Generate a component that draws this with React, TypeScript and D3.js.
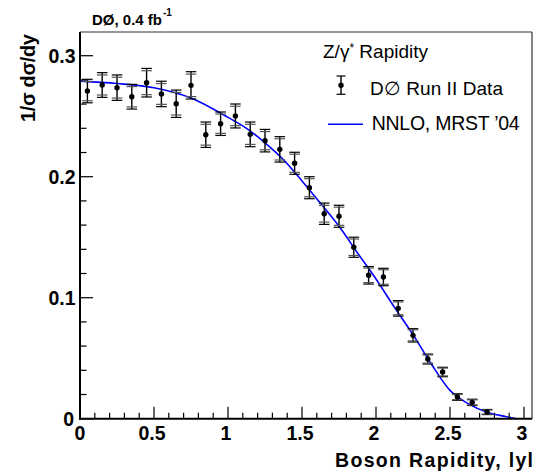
import React from "react";
import * as d3 from "d3";

const rapidity = [0.05, 0.15, 0.25, 0.35, 0.45, 0.55, 0.65, 0.75, 0.85, 0.95, 1.05, 1.15, 1.25, 1.35, 1.45, 1.55, 1.65, 1.75, 1.85, 1.95, 2.05, 2.15, 2.25, 2.35, 2.45, 2.55, 2.65, 2.75];
const dataValues = [0.2708, 0.2758, 0.2736, 0.2661, 0.2777, 0.2684, 0.2603, 0.2755, 0.2347, 0.2438, 0.2502, 0.2350, 0.2298, 0.2226, 0.2111, 0.1909, 0.1694, 0.1673, 0.1417, 0.1185, 0.1171, 0.0912, 0.0689, 0.0493, 0.0386, 0.0179, 0.0135, 0.0055];
const totalErr = [0.0097, 0.0102, 0.0105, 0.0102, 0.0118, 0.0105, 0.0113, 0.0113, 0.0105, 0.0097, 0.0099, 0.0102, 0.0093, 0.0105, 0.0091, 0.0091, 0.0088, 0.0091, 0.0083, 0.0072, 0.0072, 0.0064, 0.0055, 0.0041, 0.0039, 0.0027, 0.0026, 0.0021];
const statErr = [0.0080, 0.0083, 0.0086, 0.0084, 0.0099, 0.0086, 0.0093, 0.0093, 0.0086, 0.0080, 0.0080, 0.0083, 0.0075, 0.0088, 0.0075, 0.0075, 0.0069, 0.0075, 0.0068, 0.0060, 0.0060, 0.0053, 0.0046, 0.0034, 0.0032, 0.0022, 0.0021, 0.0017];

const theoryX = [0, 0.25, 0.5, 0.75, 1.0, 1.125, 1.25, 1.375, 1.5, 1.625, 1.75, 1.875, 2.0, 2.125, 2.25, 2.375, 2.5, 2.625, 2.75, 2.875, 2.95];
const theoryY = [0.279, 0.277, 0.2735, 0.265, 0.249, 0.240, 0.228, 0.214, 0.1965, 0.178, 0.159, 0.137, 0.1155, 0.092, 0.0695, 0.045, 0.0234, 0.0123, 0.0054, 0.0018, 0];

const xMajor = [0, 0.5, 1, 1.5, 2, 2.5, 3];
const xMajorLabels = ["0", "0.5", "1", "1.5", "2", "2.5", "3"];
const yMajor = [0, 0.1, 0.2, 0.3];
const yMajorLabels = ["0", "0.1", "0.2", "0.3"];

const W = 541, H = 475;
const L = 80, R = 532, T = 32, B = 418.7;
const FONT = "'Liberation Sans', Arial, Helvetica, sans-serif";

export default function App() {
  const x = d3.scaleLinear().domain([0, 3.054]).range([L, R]);
  const y = d3.scaleLinear().domain([0, 0.3196]).range([B, T]);

  const xMinor = d3.range(0, 3.05, 0.1).filter((v) => Math.abs(v * 2 - Math.round(v * 2)) > 1e-6);
  const yMinor = d3.range(0, 0.32, 0.02).filter((v) => Math.abs(v * 10 - Math.round(v * 10)) > 1e-6);

  const line = d3
    .line<number>()
    .x((_, i) => x(theoryX[i]))
    .y((d) => y(d))
    .curve(d3.curveMonotoneX);

  const cap = 5.3;

  return (
    <div style={{ position: "fixed", left: 0, top: 0 }}>
      <svg width={W} height={H} style={{ display: "block", background: "#fff" }} fontFamily={FONT}>
        <rect x={0} y={0} width={W} height={H} fill="#fff" />
        {/* frame */}
        <line x1={L} x2={R} y1={T} y2={T} stroke="#333" strokeWidth={1} />
        <line x1={R} x2={R} y1={T} y2={B} stroke="#333" strokeWidth={1.2} />

        {/* theory curve */}
        <path d={line(theoryY) || ""} fill="none" stroke="#0000ff" strokeWidth={1.6} />

        {/* data */}
        {rapidity.map((r, i) => {
          const cx = x(r);
          const v = dataValues[i];
          const te = totalErr[i];
          const se = statErr[i];
          return (
            <g key={i} stroke="#000">
              <line x1={cx} x2={cx} y1={y(v + te)} y2={y(v - te)} strokeWidth={1.4} />
              <line x1={cx - cap} x2={cx + cap} y1={y(v + te)} y2={y(v + te)} strokeWidth={1.2} />
              <line x1={cx - cap} x2={cx + cap} y1={y(v - te)} y2={y(v - te)} strokeWidth={1.2} />
              <line x1={cx - cap} x2={cx + cap} y1={y(v + se)} y2={y(v + se)} strokeWidth={1.2} stroke="#555" />
              <line x1={cx - cap} x2={cx + cap} y1={y(v - se)} y2={y(v - se)} strokeWidth={1.2} stroke="#555" />
              <circle cx={cx} cy={y(v)} r={2.7} fill="#000" stroke="none" />
            </g>
          );
        })}

        {/* axes */}
        <line x1={L} x2={L} y1={T} y2={B + 1} stroke="#000" strokeWidth={2} />
        <line x1={L - 1} x2={R} y1={B} y2={B} stroke="#000" strokeWidth={2} />
        {yMajor.map((v) => (
          <line key={"ym" + v} x1={L} x2={L + 13} y1={y(v)} y2={y(v)} stroke="#000" strokeWidth={1.2} />
        ))}
        {yMinor.map((v) => (
          <line key={"yn" + v} x1={L} x2={L + 6.5} y1={y(v)} y2={y(v)} stroke="#000" strokeWidth={1.2} />
        ))}
        {xMajor.map((v) => (
          <line key={"xm" + v} x1={x(v)} x2={x(v)} y1={B} y2={B - 12} stroke="#000" strokeWidth={1.2} />
        ))}
        {xMinor.map((v) => (
          <line key={"xn" + v} x1={x(v)} x2={x(v)} y1={B} y2={B - 6} stroke="#000" strokeWidth={1.2} />
        ))}

        {/* tick labels */}
        {yMajor.map((v, i) => (
          <text key={"yl" + v} x={v === 0 ? L - 6 : L - 4.5} y={y(v)} dy="0.36em" textAnchor="end" fontSize={19.5} fontWeight="bold">
            {yMajorLabels[i]}
          </text>
        ))}
        {xMajor.map((v, i) => (
          <text key={"xl" + v} x={v === 0 ? x(v) : x(v) - 2} y={439.5} textAnchor="middle" fontSize={19.5} fontWeight="bold">
            {xMajorLabels[i]}
          </text>
        ))}

        {/* axis titles */}
        <text x={335} y={467} fontSize={19.5} fontWeight="bold" textLength={198} lengthAdjust="spacing">
          Boson Rapidity, lyl
        </text>
        <text transform={`translate(35,122) rotate(-90)`} textAnchor="start" fontSize={20} fontWeight="bold" textLength={88} lengthAdjust="spacing">
          1/σ dσ/dy
        </text>

        {/* title */}
        <text x={92} y={25} fontSize={15} fontWeight="bold">
          DØ, 0.4 fb
        </text>
        <text x={163} y={16} fontSize={10} fontWeight="bold">
          -1
        </text>

        {/* legend */}
        <text x={323} y={58} fontSize={19}>
          Z/γ
          <tspan fontSize={12} dy={-6}>*</tspan>
          <tspan dy={6}> Rapidity</tspan>
        </text>
        <g stroke="#000">
          <line x1={341} x2={341} y1={76} y2={94.3} strokeWidth={1.4} />
          <line x1={336.5} x2={345.5} y1={76} y2={76} strokeWidth={1.2} />
          <line x1={336.5} x2={345.5} y1={94.3} y2={94.3} strokeWidth={1.2} />
          <circle cx={341} cy={85.3} r={2.7} fill="#000" stroke="none" />
        </g>
        <text x={370} y={95} fontSize={19} textLength={133} lengthAdjust="spacing">
          D∅ Run II Data
        </text>
        <line x1={328} x2={363} y1={124.3} y2={124.3} stroke="#0000ff" strokeWidth={1.6} />
        <text x={371.7} y={130} fontSize={19.5} textLength={148} lengthAdjust="spacing">
          NNLO, MRST ’04
        </text>
      </svg>
    </div>
  );
}
